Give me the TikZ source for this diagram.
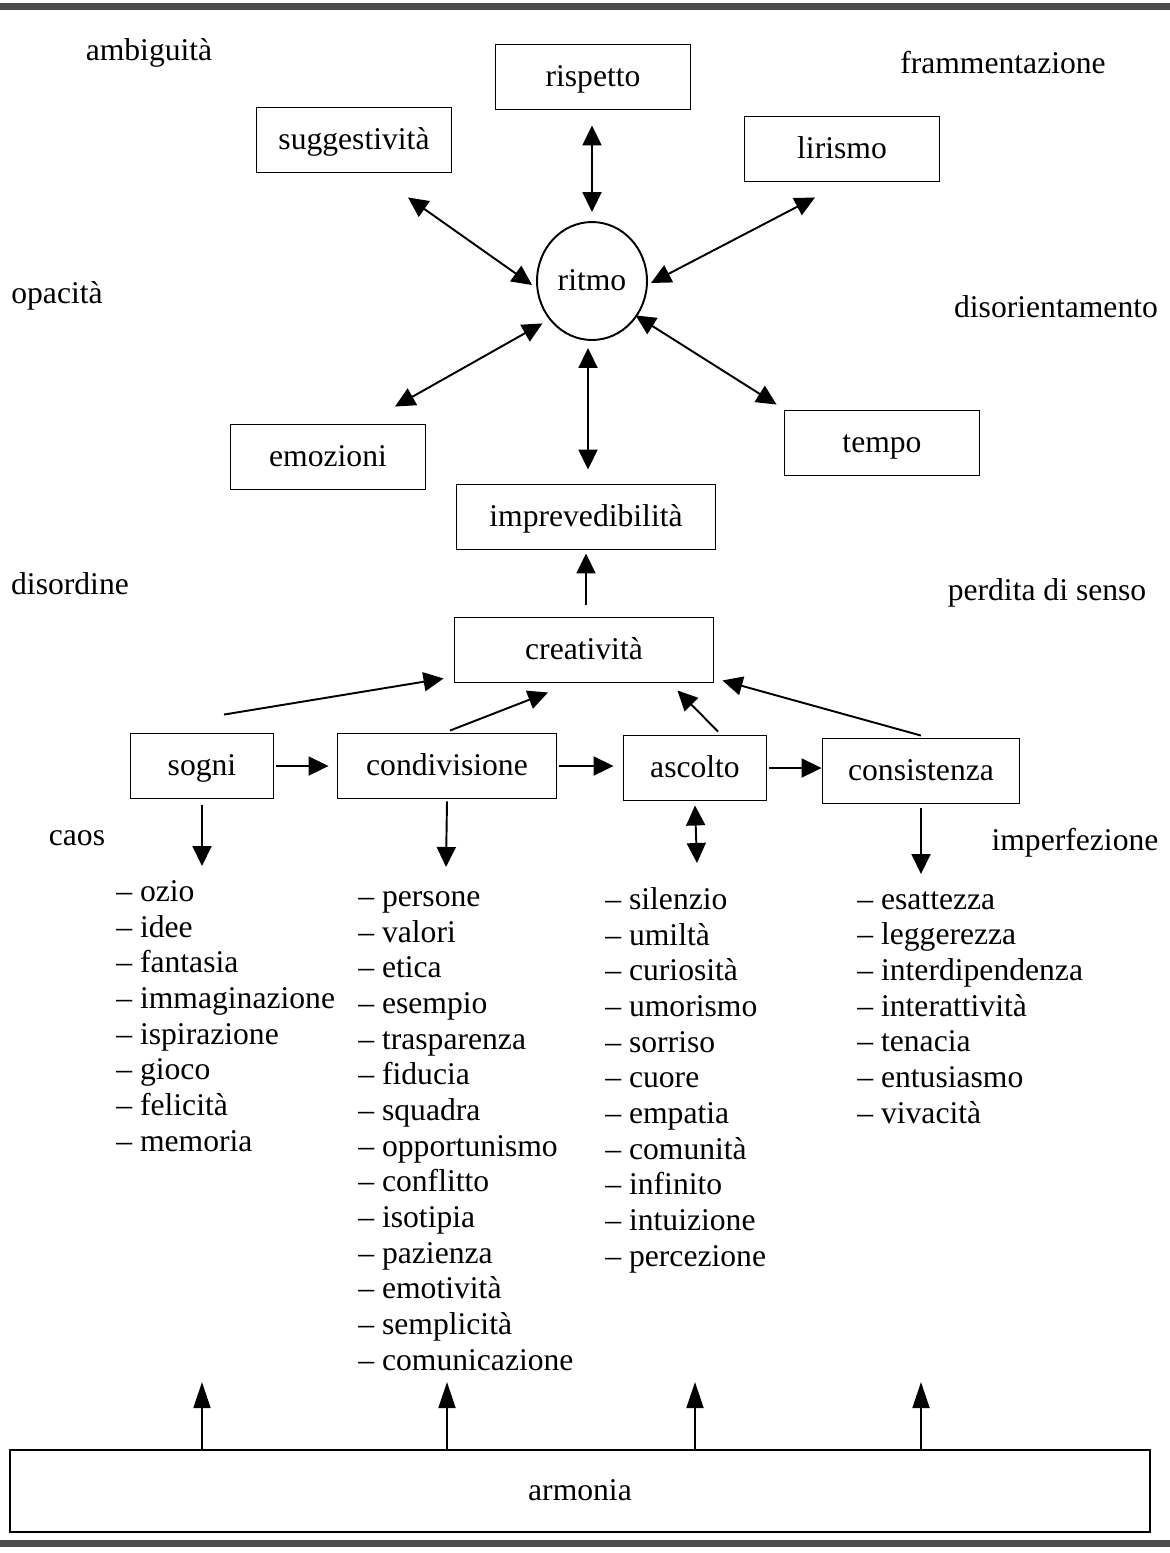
\documentclass[tikz,border=0pt]{standalone}
\usepackage{fontspec}
\setmainfont{Liberation Serif}
\usetikzlibrary{arrows.meta,positioning,shapes.geometric}

\begin{document}
\begin{tikzpicture}[x=0.02cm, y=-0.02cm,
    every node/.style={font=\fontsize{18}{20.3}\selectfont},
    box/.style={rectangle, draw=black, line width=1.1pt, inner sep=0pt, text height=14pt, text depth=3pt, minimum width=3.9cm, minimum height=1.3cm},
    widebox/.style={box, minimum width=5.18cm},
    listtext/.style={align=left, inner sep=0pt, anchor=base west},
    corner/.style={inner sep=0pt, anchor=base},
    arr/.style={-{Triangle[length=0.4cm, width=0.38cm]}, line width=1.1pt},
    dbl/.style={{Triangle[length=0.4cm, width=0.38cm]}-{Triangle[length=0.4cm, width=0.38cm]}, line width=1.1pt},
    uparr/.style={-{Triangle[length=0.52cm, width=0.34cm]}, line width=1.1pt}
]
\useasboundingbox (0,0) rectangle (1170,1553);

% Top and bottom rules
\fill[black!70] (0,3) rectangle (1170,10);
\fill[black!70] (0,1540) rectangle (1170,1547);

% Corner words
\node[corner] (ambig) at (149,60) {ambiguità};
\node[corner] (fram) at (1003,73) {frammentazione};
\node[corner] (opac) at (57,303) {opacità};
\node[corner] (disor) at (1056,317) {disorientamento};
\node[corner] (disord) at (70,594) {disordine};
\node[corner] (perd) at (1047,600) {perdita di senso};
\node[corner] (caos) at (77,845) {caos};
\node[corner] (imperf) at (1075,850) {imperfezione};

% Star around ritmo
\node[ellipse, draw, line width=1.1pt, inner sep=0pt, text height=14pt, text depth=3pt, minimum width=2.2cm, minimum height=2.36cm] (ritmo) at (592,281) {ritmo};
\node[box] (rispetto) at (593,77) {rispetto};
\node[box] (sugg) at (354,140) {suggestività};
\node[box] (lirismo) at (842,149) {lirismo};
\node[box] (emozioni) at (328,457) {emozioni};
\node[box] (tempo) at (882,443) {tempo};
\node[widebox] (impr) at (586,517) {imprevedibilità};

\draw[dbl] ([shift={(0,-9)}]ritmo.north) -- ([shift={(-1,15)}]rispetto.south);
\draw[dbl] ([shift={(-4,4)}]ritmo.west) -- ([shift={(54,24)}]sugg.south);
\draw[dbl] ([shift={(3,2)}]ritmo.east) -- ([shift={(-27,15)}]lirismo.south);
\draw[dbl] ([shift={(-10,0)}]ritmo.south west) -- ([shift={(67,-17)}]emozioni.north);
\draw[dbl] ([shift={(4,-8)}]ritmo.south east) -- ([shift={(-7,-5)}]tempo.north west);
\draw[dbl] ([shift={(-4,7)}]ritmo.south) -- ([shift={(2,-14)}]impr.north);

% Middle row
\node[widebox] (creat) at (584,650) {creatività};
\node[box, minimum width=2.86cm] (sogni) at (202,766) {sogni};
\node[box, minimum width=4.38cm] (condiv) at (447,766) {condivisione};
\node[box, minimum width=2.86cm] (ascolto) at (695,768) {ascolto};
\node[box, minimum width=3.94cm] (consist) at (921,771) {consistenza};

\draw[arr] ([shift={(2,-12)}]creat.north) -- ([shift={(0,3)}]impr.south);

\draw[arr] ([shift={(22,-18)}]sogni.north) -- ([shift={(-10,-5)}]creat.south west);
\draw[arr] ([shift={(3,-2)}]condiv.north) -- ([shift={(-36,9)}]creat.south);
\draw[arr] ([shift={(23,-3)}]ascolto.north) -- ([shift={(-37,7)}]creat.south east);
\draw[arr] ([shift={(0,-2)}]consist.north) -- ([shift={(8,-3)}]creat.south east);

\draw[arr, shorten <=0.04cm, shorten >=0.16cm] (sogni.east) -- (sogni.east -| condiv.west);
\draw[arr, shorten <=0.04cm, shorten >=0.18cm] (condiv.east) -- (condiv.east -| ascolto.west);
\draw[arr, shorten <=0.04cm] (ascolto.east) -- (ascolto.east -| consist.west);

% Lists (base = last line)
\node[listtext] (lsogni) at (116,1151) {– ozio\\– idee\\– fantasia\\– immaginazione\\– ispirazione\\– gioco\\– felicità\\– memoria};
\node[listtext] (lcondiv) at (358,1370) {– persone\\– valori\\– etica\\– esempio\\– trasparenza\\– fiducia\\– squadra\\– opportunismo\\– conflitto\\– isotipia\\– pazienza\\– emotività\\– semplicità\\– comunicazione};
\node[listtext] (lascolto) at (605,1266) {– silenzio\\– umiltà\\– curiosità\\– umorismo\\– sorriso\\– cuore\\– empatia\\– comunità\\– infinito\\– intuizione\\– percezione};
\node[listtext] (lcons) at (857,1123) {– esattezza\\– leggerezza\\– interdipendenza\\– interattività\\– tenacia\\– entusiasmo\\– vivacità};

\coordinate (dsogni) at (202,866);
\coordinate (dcondiv) at (446,867);
\coordinate (dascolto) at (697,863);
\coordinate (dcons) at (921,874);
\draw[arr] ([yshift=-0.12cm]sogni.south) -- (dsogni);
\draw[arr] ([yshift=-0.04cm]condiv.south) -- (dcondiv);
\draw[dbl] ([yshift=-0.08cm]ascolto.south) -- (dascolto);
\draw[arr] ([yshift=-0.08cm]consist.south) -- (dcons);

% Base
\node[box, minimum width=22.8cm, minimum height=1.64cm] (armonia) at (580,1491) {armonia};
\foreach \b in {sogni, condiv, ascolto, consist}
    \draw[uparr] (armonia.north -| \b) -- ++(0,-67);

\end{tikzpicture}
\end{document}
